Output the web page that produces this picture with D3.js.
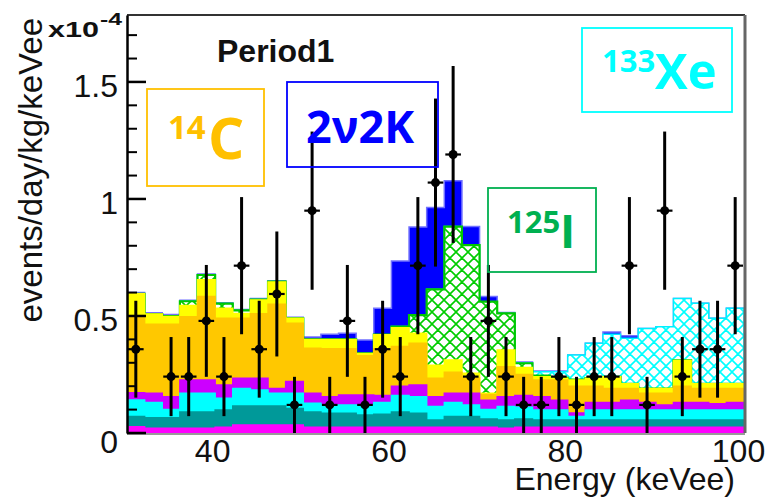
<!DOCTYPE html>
<html>
<head>
<meta charset="utf-8">
<script src="https://cdn.jsdelivr.net/npm/d3@7"></script>
<style>
  body { margin: 0; background: #fff; }
  svg { display: block; }
</style>
</head>
<body>
<svg id="chart" width="770" height="503"></svg>
<script>
// Energy bins (lower edges, keVee), 2 keVee wide
const binLow = [30, 32, 34, 36, 38, 40, 42, 44, 46, 48, 50, 52, 54, 56, 58, 60, 62, 64,
                66, 68, 70, 72, 74, 76, 78, 80, 82, 84, 86, 88, 90, 92, 94, 96, 98];
const binWidth = 2;

// Background components, rate in units of 1e-4 events/day/kg/keVee (stacked bottom to top)
const bkgMagenta = [.027, .02, .02, .02, .02, .025, .034, .034, .034, .034, .025, .025, .025, .025, .025, .025, .025, .025,
                    .025, .025, .025, .02, .025, .025, .025, .025, .025, .025, .025, .025, .025, .025, .025, .025, .025];
const bkgTeal = [.043, .045, .045, .07, .07, .073, .081, .081, .081, .071, .065, .059, .059, .052, .055, .065, .059, .031,
                 .045, .045, .035, .036, .035, .031, .031, .031, .031, .031, .031, .031, .031, .031, .031, .031, .031];
const bkgCyan = [.071, .065, .035, .08, .08, .05, .075, .069, .055, .065, .037, .036, .036, .043, .05, .07, .071, .057,
                 .06, .05, .04, .057, .05, .042, .042, .014, .042, .042, .042, .042, .042, .042, .042, .042, .042];
const bkgViolet = [.031, .04, .055, .056, .056, .057, .044, .05, .02, .05, .043, .035, .042, .042, .03, .04, .05, .042,
                   .04, .05, .04, .042, .05, .057, .042, .015, .032, .032, .042, .032, .022, .032, .032, .027, .032];
const c14 = [.325, .295, .31, .271, .357, .285, .256, .276, .36, .249, .192, .205, .198, .168, .2, .17, .178, .079,
             .09, .065, .025, .128, .09, .071, .086, .115, .07, .06, .05, .04, .05, .07, .06, .065, .06];
const bkgYellow = [.098, .043, .033, .048, .072, .043, .021, .058, .095, .021, .038, .04, .04, .01, .06, .08, .043, .056,
                   .052, .02, .005, .072, .03, .014, .008, .026, .034, .05, .02, .02, .02, .11, .02, .02, .02];
const i125 = [0, 0, .002, .018, .02, .02, .013, .002, .002, 0, 0, 0, 0, 0, 0, .005, .078, .324,
              .57, .548, .391, .156, .018, .005, .002, .002, .001, 0, 0, 0, 0, 0, 0, 0, 0];
const xe133 = [0, 0, 0, 0, 0, 0, 0, 0, 0, 0, 0, 0, 0, 0, 0, 0, 0, 0,
               0, 0, 0, 0, .002, .017, .026, .105, .148, .182, .195, .257, .264, .265, .344, .28, .323];
const twoNu2K = [.005, .006, .006, .004, .004, .004, .004, .005, .004, .005, .01, .022, .026, .057, .113, .28, .376, .35,
                 .196, .079, .022, .004, .003, .003, .003, 0, 0, .01, .01, 0, 0, 0, 0, 0, 0];

// Measured spectrum: rate per bin and its uncertainty (null = empty bin)
const dataRate = [.358, null, .241, .241, .479, .241, .715, .358, .594, .12, .95, .12, .479, .12, .358, .241, .715, 1.07,
                  1.19, .241, .479, .241, .12, .12, .241, .12, .241, .241, .715, .12, .95, .241, .358, .358, .715];
const dataErr = [.207, null, .169, .169, .239, .169, .293, .207, .267, .12, .338, .12, .239, .12, .207, .169, .293, .359,
                 .378, .169, .239, .169, .12, .12, .169, .12, .169, .169, .293, .12, .338, .169, .207, .207, .293];

const xTicks = [40, 60, 80, 100];
const yTicks = [0, 0.5, 1, 1.5];
const yMinorTicks = [0.1, 0.2, 0.3, 0.4, 0.6, 0.7, 0.8, 0.9, 1.1, 1.2, 1.3, 1.4, 1.6, 1.7];

const components = [
  { key: "magenta", values: bkgMagenta, fill: "#ff00ff", stroke: "#ff00ff" },
  { key: "teal",    values: bkgTeal,    fill: "#009999", stroke: "#009999" },
  { key: "cyan",    values: bkgCyan,    fill: "#00ffff", stroke: "#00ffff" },
  { key: "violet",  values: bkgViolet,  fill: "#cc00ff", stroke: "#cc00ff" },
  { key: "c14",     values: c14,        fill: "#ffc800", stroke: "#ffc800" },
  { key: "yellow",  values: bkgYellow,  fill: "#ffff00", stroke: "#ffff00" },
  { key: "i125",    values: i125,       fill: "url(#hatchGreen)", stroke: "#00c800" },
  { key: "xe133",   values: xe133,      fill: "url(#hatchCyan)",  stroke: "#00f0ff" },
  { key: "dkk",     values: twoNu2K,    fill: "#0000ff", stroke: "#7070ff" }
];

const plot = { left: 127, right: 744, top: 15, bottom: 433 };
const x = d3.scaleLinear().domain([30, 100]).range([plot.left, plot.right]);
const y = d3.scaleLinear().domain([0, 1.786]).range([plot.bottom, plot.top]);

const svg = d3.select("#chart");
const defs = svg.append("defs");

function hatch(id, color) {
  const p = defs.append("pattern").attr("id", id).attr("patternUnits", "userSpaceOnUse")
    .attr("width", 12).attr("height", 12);
  p.append("rect").attr("width", 12).attr("height", 12).attr("fill", "#fff");
  p.append("path").attr("d", "M0,0L12,12M12,0L0,12M-6,6L6,18M6,-6L18,6M-6,6L6,-6M6,18L18,6")
    .attr("stroke", color).attr("stroke-width", 1.6).attr("fill", "none");
}
hatch("hatchGreen", "#00cc00");
hatch("hatchCyan", "#00ffff");

defs.append("clipPath").attr("id", "plotClip").append("rect")
  .attr("x", plot.left).attr("y", plot.top)
  .attr("width", plot.right - plot.left).attr("height", plot.bottom - plot.top);

// Stack the components
const table = binLow.map((e, i) => {
  const row = { e };
  components.forEach(c => row[c.key] = c.values[i]);
  return row;
});
const stacked = d3.stack().keys(components.map(c => c.key))(table);

const histG = svg.append("g").attr("clip-path", "url(#plotClip)");

const area = d3.area().curve(d3.curveStepAfter)
  .x(d => x(d.e)).y0(y(0)).y1(d => y(d.v));
const outline = d3.line().curve(d3.curveStepAfter)
  .x(d => x(d.e)).y(d => y(d.v));

// Draw cumulative histograms from the full sum down to the bottom component
for (let k = stacked.length - 1; k >= 0; k--) {
  const layer = stacked[k];
  const comp = components[k];
  const pts = layer.map((d, i) => ({ e: binLow[i], v: d[1] }));
  pts.push({ e: binLow[binLow.length - 1] + binWidth, v: layer[layer.length - 1][1] });
  histG.append("path").attr("d", area(pts)).attr("fill", comp.fill).attr("stroke", "none");
  const line = [{ e: 30, v: 0 }, ...pts, { e: 100, v: 0 }];
  histG.append("path").attr("d", outline(line)).attr("fill", "none")
    .attr("stroke", comp.stroke).attr("stroke-width", k === 6 ? 2.2 : 1.5);
}

// Data points with error bars
const pts = binLow.map((e, i) => ({ e, v: dataRate[i], err: dataErr[i] })).filter(d => d.v !== null);
const dataG = svg.append("g").attr("clip-path", "url(#plotClip)");
dataG.selectAll("line.v").data(pts).join("line").attr("class", "v")
  .attr("x1", d => x(d.e + binWidth / 2)).attr("x2", d => x(d.e + binWidth / 2))
  .attr("y1", d => y(d.v - d.err)).attr("y2", d => y(d.v + d.err))
  .attr("stroke", "#000").attr("stroke-width", 3);
dataG.selectAll("line.h").data(pts).join("line").attr("class", "h")
  .attr("x1", d => x(d.e) + 1).attr("x2", d => x(d.e + binWidth) - 1)
  .attr("y1", d => y(d.v)).attr("y2", d => y(d.v))
  .attr("stroke", "#000").attr("stroke-width", 2.2);
dataG.selectAll("circle").data(pts).join("circle")
  .attr("cx", d => x(d.e + binWidth / 2)).attr("cy", d => y(d.v)).attr("r", 4.5)
  .attr("fill", "#000");

// Frame
svg.append("line").attr("x1", plot.left).attr("x2", plot.right + 1).attr("y1", plot.top).attr("y2", plot.top)
  .attr("stroke", "#333").attr("stroke-width", 2);
svg.append("line").attr("x1", plot.right + 1).attr("x2", plot.right + 1).attr("y1", plot.top).attr("y2", plot.bottom)
  .attr("stroke", "#666").attr("stroke-width", 3);
svg.append("line").attr("x1", plot.left).attr("x2", plot.right + 1).attr("y1", plot.bottom + 1).attr("y2", plot.bottom + 1)
  .attr("stroke", "#999").attr("stroke-width", 2);

const font = "'Liberation Sans', Arial, Helvetica, sans-serif";

// Y axis (ticks inside the frame)
const yAxis = svg.append("g").attr("transform", `translate(${plot.left},0)`)
  .call(d3.axisLeft(y).tickValues(yTicks).tickSize(0).tickPadding(9)
    .tickFormat(d => d === 0 ? "0" : d3.format("")(d)));
yAxis.select(".domain").attr("stroke", "#000").attr("stroke-width", 2.5);
yAxis.selectAll("text").attr("font-family", font).attr("font-size", 32).attr("fill", "#111")
  .attr("dy", d => d === 0 ? "0.62em" : "0.45em");
svg.append("g").selectAll("line").data(yTicks).join("line")
  .attr("x1", plot.left).attr("x2", plot.left + 19).attr("y1", d => y(d)).attr("y2", d => y(d))
  .attr("stroke", "#000").attr("stroke-width", 2.5);
svg.append("g").selectAll("line").data(yMinorTicks).join("line")
  .attr("x1", plot.left).attr("x2", plot.left + 10).attr("y1", d => y(d)).attr("y2", d => y(d))
  .attr("stroke", "#000").attr("stroke-width", 2);

// X axis labels
const xAxis = svg.append("g").attr("transform", `translate(0,${plot.bottom})`)
  .call(d3.axisBottom(x).tickValues(xTicks).tickSize(0).tickPadding(6));
xAxis.select(".domain").remove();
xAxis.selectAll("text").attr("font-family", font).attr("font-size", 32).attr("fill", "#111")
  .attr("dx", d => d === 100 ? -6 : -3);

// Axis titles
svg.append("text").attr("x", 735).attr("y", 490).attr("text-anchor", "end")
  .attr("font-family", font).attr("font-size", 32).attr("fill", "#111").text("Energy (keVee)");
svg.append("text").attr("transform", "translate(42,18) rotate(-90)").attr("text-anchor", "end")
  .attr("font-family", font).attr("font-size", 33).attr("fill", "#111").text("events/day/kg/keVee");

// Exponent label
svg.append("text").attr("x", 48).attr("y", 37).attr("font-family", font).attr("font-weight", "bold")
  .attr("font-size", 22).attr("fill", "#111").attr("textLength", 51).attr("lengthAdjust", "spacingAndGlyphs")
  .text("x10");
svg.append("text").attr("x", 100).attr("y", 25).attr("font-family", font).attr("font-weight", "bold")
  .attr("font-size", 17).attr("fill", "#111").attr("textLength", 22).attr("lengthAdjust", "spacingAndGlyphs")
  .text("-4");

// Title
svg.append("text").attr("x", 217).attr("y", 62).attr("font-family", font).attr("font-weight", "bold")
  .attr("font-size", 32).attr("fill", "#111").text("Period1");

// Component labels
const lblFont = "'Open Sans', 'Noto Sans', sans-serif";
function isotopeBox(box, color, parts) {
  svg.append("rect").attr("x", box[0]).attr("y", box[1]).attr("width", box[2] - box[0]).attr("height", box[3] - box[1])
    .attr("fill", "none").attr("stroke", color).attr("stroke-width", 1.8);
  const t = svg.append("text").attr("font-family", lblFont).attr("font-weight", "bold").attr("fill", color);
  parts.forEach(p => t.append("tspan").attr("x", p.x).attr("y", p.y).attr("font-size", p.size).text(p.text));
}
isotopeBox([147, 89, 264, 186], "#ffc000", [
  { text: "14", x: 168, y: 139, size: 33 }, { text: "C", x: 208, y: 159, size: 57 }]);
isotopeBox([287, 82, 438, 167], "#0000ff", [
  { text: "2ν2K", x: 306, y: 143, size: 45 }]);
isotopeBox([488, 188, 596, 272], "#00b050", [
  { text: "125", x: 507, y: 233, size: 31 }, { text: "I", x: 560, y: 248, size: 46 }]);
isotopeBox([582, 28, 732, 112], "#00ffff", [
  { text: "133", x: 602, y: 72, size: 31 }, { text: "Xe", x: 655, y: 89, size: 49 }]);
</script>
</body>
</html>
